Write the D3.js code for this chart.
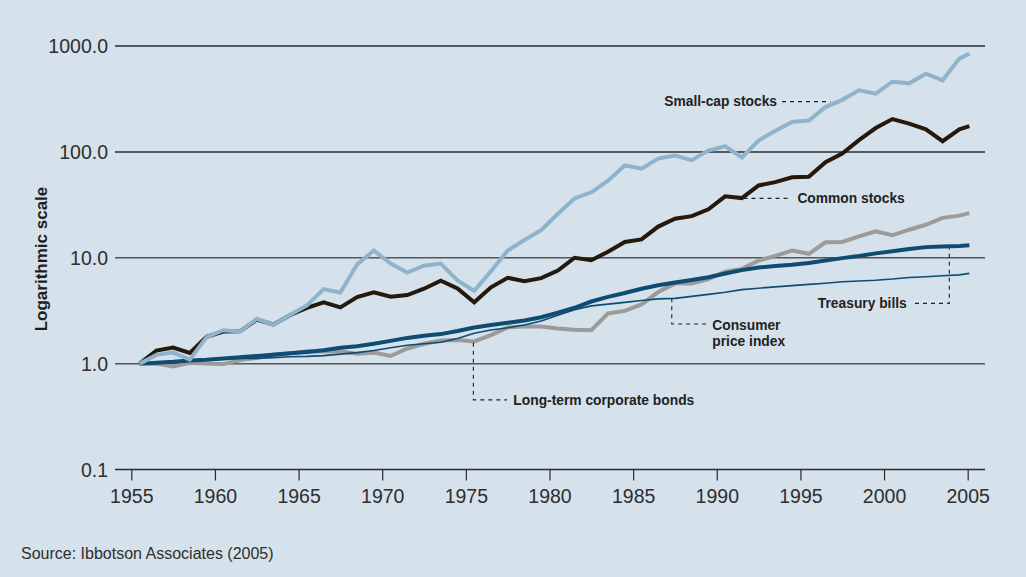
<!DOCTYPE html>
<html>
<head>
<meta charset="utf-8">
<script src="https://cdn.jsdelivr.net/npm/d3@7"></script>
<style>
  html, body { margin: 0; padding: 0; background: #d5e1eb; }
  svg { display: block; }
  text { font-family: "Liberation Sans", Arial, sans-serif; }
</style>
</head>
<body>
<svg id="chart" width="1026" height="577"></svg>
<script>
// Growth of $1 invested at the start of 1955 (value at the start of each year)
const years = d3.range(1955, 2006);

const smallCap = [1.00, 1.21, 1.27, 1.09, 1.78, 2.07, 2.01, 2.65, 2.33, 2.89,
  3.55, 5.05, 4.70, 8.65, 11.7, 8.80, 7.25, 8.40, 8.80, 6.10,
  4.87, 7.45, 11.7, 14.7, 18.2, 26.0, 36.3, 41.5, 53.5, 74.5,
  69.5, 86.5, 92.5, 83.5, 103, 113, 88.5, 128, 158, 192,
  198, 265, 310, 382, 355, 460, 444, 548, 474, 760, 850];

const commonStocks = [1.00, 1.33, 1.42, 1.26, 1.79, 2.01, 2.02, 2.60, 2.34, 2.88,
  3.36, 3.80, 3.40, 4.25, 4.72, 4.28, 4.44, 5.10, 6.08, 5.14,
  3.80, 5.25, 6.46, 6.00, 6.42, 7.56, 10.0, 9.48, 11.4, 14.1,
  14.9, 19.7, 23.4, 24.7, 28.7, 38.0, 36.6, 48.2, 51.8, 57.5,
  58.3, 80.0, 96.6, 129, 168, 204, 185, 163, 126, 163, 175];

const corpBonds = [1.00, 1.00, 0.94, 1.02, 1.00, 0.99, 1.08, 1.13, 1.22, 1.25,
  1.31, 1.30, 1.30, 1.24, 1.27, 1.18, 1.39, 1.54, 1.65, 1.67,
  1.62, 1.86, 2.20, 2.24, 2.24, 2.15, 2.09, 2.07, 2.98, 3.15,
  3.62, 4.74, 5.70, 5.70, 6.30, 7.40, 7.85, 9.40, 10.4, 11.7,
  10.9, 14.0, 14.1, 15.9, 17.8, 16.3, 18.4, 20.5, 23.8, 25.0, 26.4];

const tBills = [1.00, 1.02, 1.04, 1.07, 1.09, 1.12, 1.15, 1.18, 1.21, 1.25,
  1.29, 1.34, 1.41, 1.46, 1.54, 1.64, 1.75, 1.83, 1.90, 2.03,
  2.19, 2.32, 2.43, 2.56, 2.74, 3.03, 3.37, 3.86, 4.27, 4.64,
  5.10, 5.49, 5.83, 6.15, 6.54, 7.09, 7.64, 8.07, 8.35, 8.60,
  8.93, 9.43, 9.92, 10.4, 11.0, 11.5, 12.1, 12.6, 12.8, 12.9, 13.1];

const cpi = [1.00, 1.00, 1.03, 1.06, 1.08, 1.10, 1.12, 1.12, 1.14, 1.16,
  1.17, 1.19, 1.23, 1.27, 1.33, 1.41, 1.49, 1.54, 1.59, 1.73,
  1.94, 2.08, 2.18, 2.32, 2.53, 2.87, 3.23, 3.51, 3.65, 3.79,
  3.94, 4.09, 4.13, 4.32, 4.51, 4.72, 5.00, 5.16, 5.31, 5.45,
  5.60, 5.74, 5.93, 6.03, 6.13, 6.29, 6.51, 6.61, 6.76, 6.89, 7.12];

const xTicks = [1955, 1960, 1965, 1970, 1975, 1980, 1985, 1990, 1995, 2000, 2005];
const yTicks = [0.1, 1, 10, 100, 1000];

const svg = d3.select("#chart");

const x = d3.scaleLinear().domain([1955, 2005]).range([131.3, 967.7]);
const y = d3.scaleLog().domain([0.1, 1000]).range([469.5, 46]);
// Points sit half a year into the axis; the last one covers a partial year
const xData = d3.scaleLinear()
  .domain([1955, 2004, 2005])
  .range([x(1955.5), x(2004.5), x(2005.1)]);

const gridLeft = 115, gridRight = 985;

// Horizontal gridlines
svg.append("g").selectAll("line")
  .data(yTicks)
  .join("line")
  .attr("x1", gridLeft).attr("x2", gridRight)
  .attr("y1", d => y(d)).attr("y2", d => y(d))
  .attr("stroke", d => d >= 100 || d === 0.1 ? "#2b2b2b" : "#555")
  .attr("stroke-width", 1.5);

// Y tick labels
svg.append("g").selectAll("text")
  .data(yTicks)
  .join("text")
  .attr("x", 108)
  .attr("y", d => y(d) + 7)
  .attr("text-anchor", "end")
  .attr("font-size", 19.5)
  .attr("fill", "#2e2e2e")
  .text(d => d3.format(".1f")(d));

// X axis ticks and labels
const xAxis = d3.axisBottom(x)
  .tickValues(xTicks)
  .tickFormat(d3.format("d"))
  .tickSize(11)
  .tickPadding(9);
const gx = svg.append("g").attr("transform", `translate(0,${y(0.1)})`).call(xAxis);
gx.select(".domain").remove();
gx.selectAll(".tick line").attr("stroke", "#2b2b2b").attr("stroke-width", 1.2);
gx.selectAll(".tick text")
  .attr("font-family", "Liberation Sans, Arial, sans-serif")
  .attr("font-size", 19.5)
  .attr("fill", "#2e2e2e");

// Axis title
svg.append("text")
  .attr("transform", `translate(46.5,259) rotate(-90)`)
  .attr("text-anchor", "middle")
  .attr("font-size", 17)
  .attr("font-weight", "bold")
  .attr("fill", "#1e1e1e")
  .text("Logarithmic scale");

// Series lines
const series = [
  { values: corpBonds, color: "#9b9b9b", width: 4 },
  { values: cpi, color: "#0f4c74", width: 1.6 },
  { values: tBills, color: "#0f4c74", width: 4 },
  { values: commonStocks, color: "#24190c", width: 4 },
  { values: smallCap, color: "#90b3cc", width: 4 }
];

const line = d3.line()
  .x((d, i) => xData(years[i]))
  .y(d => y(d))
  .curve(d3.curveLinear);

svg.append("g").selectAll("path")
  .data(series)
  .join("path")
  .attr("d", d => line(d.values))
  .attr("fill", "none")
  .attr("stroke", d => d.color)
  .attr("stroke-width", d => d.width)
  .attr("stroke-linejoin", "miter")
  .attr("stroke-linecap", "butt");

// Annotations: leader lines in data units, labels attached to the leader ends
const dash = "4,4";
const ann = svg.append("g");

function leader(points) {
  ann.append("path")
    .attr("d", d3.line()(points.map(p => [x(p[0]), y(p[1])])))
    .attr("fill", "none")
    .attr("stroke", "#222")
    .attr("stroke-width", 1.1)
    .attr("stroke-dasharray", dash);
}
function label(px, py, lines, anchor) {
  const t = ann.append("text")
    .attr("x", px).attr("y", py)
    .attr("text-anchor", anchor)
    .attr("font-size", 13.8)
    .attr("font-weight", "bold")
    .attr("fill", "#222");
  lines.forEach((s, i) => {
    t.append("tspan").attr("x", px).attr("dy", i === 0 ? 0 : 16).text(s);
  });
}

// Small-cap stocks
leader([[1993.9, 298], [1996.8, 298]]);
label(x(1993.6), y(298) + 4.8, ["Small-cap stocks"], "end");

// Common stocks
leader([[1991.6, 36.4], [1994.4, 36.4]]);
label(x(1994.82), y(36.4) + 4.8, ["Common stocks"], "start");

// Treasury bills
leader([[2001.85, 3.71], [2003.9, 3.71], [2003.9, 12.28]]);
label(x(2001.36), y(3.71) + 4.8, ["Treasury bills"], "end");

// Consumer price index
leader([[1987.31, 4.14], [1987.31, 2.37], [1989.4, 2.37]]);
label(x(1989.73), y(2.37) + 6.5, ["Consumer", "price index"], "start");

// Long-term corporate bonds
leader([[1975.45, 1.576], [1975.45, 0.455], [1977.46, 0.455]]);
label(x(1977.84), y(0.455) + 4.8, ["Long-term corporate bonds"], "start");

// Source note
svg.append("text")
  .attr("x", 21).attr("y", 559)
  .attr("font-size", 16)
  .attr("fill", "#2e2e2e")
  .text("Source: Ibbotson Associates (2005)");
</script>
</body>
</html>
